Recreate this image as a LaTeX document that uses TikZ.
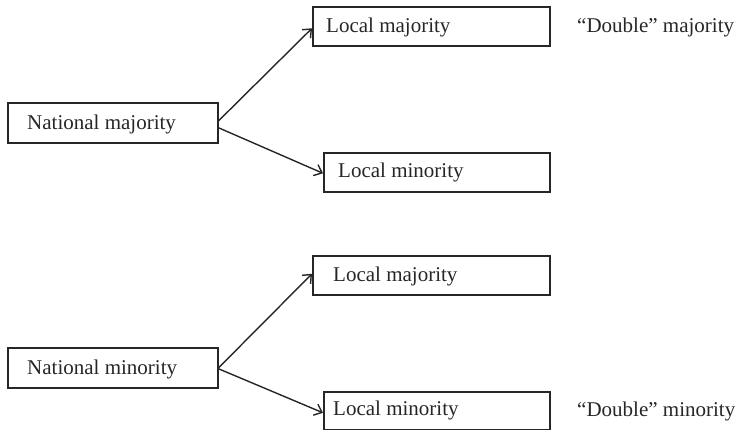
\documentclass[tikz,border=0pt]{standalone}
\usepackage{fontspec}
\setmainfont{Liberation Serif}
\usetikzlibrary{arrows.meta}
\begin{document}
\begin{tikzpicture}[x=1pt,y=-1pt,
  box/.style={draw=black!85, line width=1.6pt, inner sep=0pt, anchor=north west},
  lbl/.style={inner sep=0pt, anchor=base west, font=\fontsize{21}{25}\selectfont, text=black!85},
  conn/.style={draw=black!85, line width=1.4pt, -{Straight Barb[length=7pt,width=12pt,line width=1.4pt]}}]
\useasboundingbox (0,0) rectangle (742,430);
% top group
\node[box, minimum width=210pt, minimum height=40pt] (nmaj) at (7,102) {};
\node[lbl] (tnmaj) at (27,130) {National majority};
\node[box, minimum width=237pt, minimum height=39pt] (lmajA) at (312,6) {};
\node[lbl] (tlmajA) at (326,33) {Local majority};
\node[box, minimum width=226pt, minimum height=39pt] (lminA) at (323,152) {};
\node[lbl] (tlminA) at (338,178) {Local minority};
\node[lbl] (dmaj) at (577,33) {“Double” majority};
\draw[conn] ([yshift=2pt]nmaj.east) -- ([yshift=-2pt]lmajA.west);
\draw[conn] ([yshift=-5pt]nmaj.east) -- ([yshift=-1pt]lminA.west);
% bottom group
\node[box, minimum width=210pt, minimum height=40pt] (nmin) at (7,347) {};
\node[lbl] (tnmin) at (27,374) {National minority};
\node[box, minimum width=237pt, minimum height=39pt] (lmajB) at (312,255) {};
\node[lbl] (tlmajB) at (333,282) {Local majority};
\node[box, minimum width=226pt, minimum height=38pt] (lminB) at (323,391) {};
\node[lbl] (tlminB) at (333,416) {Local minority};
\node[lbl] (dmin) at (577,417) {“Double” minority};
\draw[conn] (nmin.east) -- ([yshift=1.5pt]lmajB.west);
\draw[conn] ([yshift=-1pt]nmin.east) -- ([yshift=-2pt]lminB.west);
\end{tikzpicture}
\end{document}
